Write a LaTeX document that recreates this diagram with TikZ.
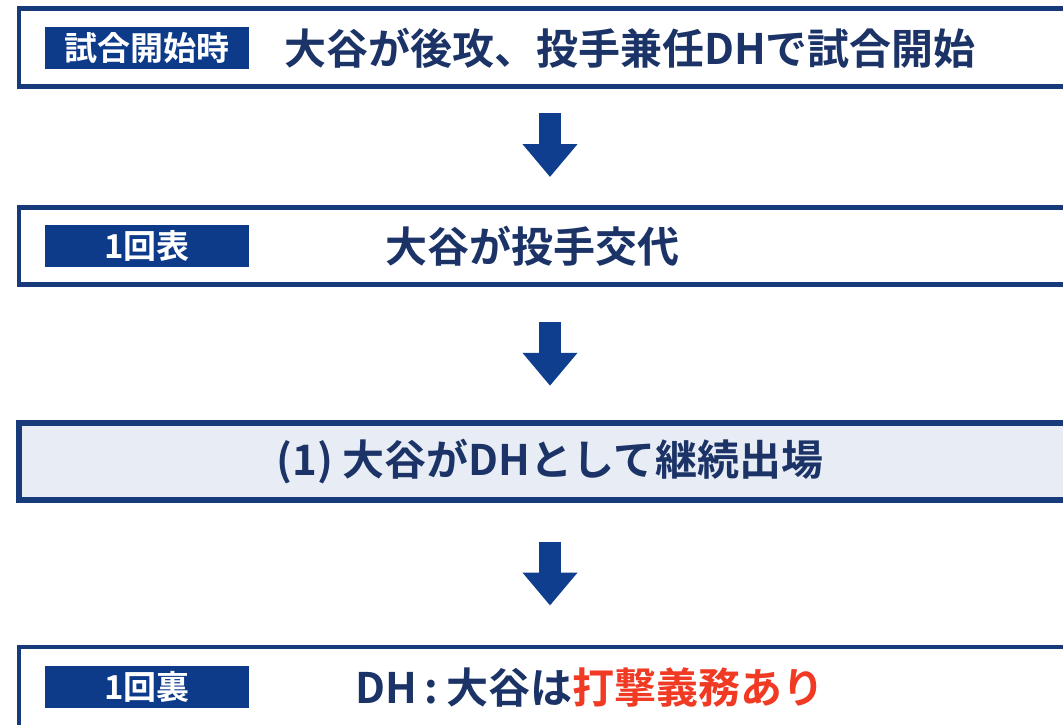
\documentclass[tikz,border=0pt]{standalone}
\usepackage{fontspec}
\setmainfont{Noto Sans CJK JP}[BoldFont={Noto Sans CJK JP Bold}]
\usetikzlibrary{arrows.meta,calc}
\definecolor{navy}{HTML}{173A7A}
\definecolor{labelbg}{HTML}{0D3B8A}
\definecolor{arrowc}{HTML}{0F3E8E}
\definecolor{txt}{HTML}{1B3366}
\definecolor{redtxt}{HTML}{F03A24}
\definecolor{lightbg}{HTML}{E8EDF5}
\tikzset{
  box/.style={draw=navy, line width=4.5pt, fill=white, minimum width=1062pt, inner sep=0pt, outer sep=0pt},
  lbl/.style={fill=labelbg, text=white, minimum width=204pt, minimum height=42pt, inner sep=0pt, font=\fontsize{33}{33}\selectfont\bfseries},
  maintext/.style={text=txt, inner sep=0pt, anchor=west, font=\fontsize{42}{42}\selectfont\bfseries},
  flowarrow/.style={draw=arrowc, line width=22pt, -{Triangle[width=53pt,length=33pt]}}
}
\begin{document}
\begin{tikzpicture}[x=1pt,y=-1pt]
\useasboundingbox (0,0) rectangle (1063,725);
\clip (0,0) rectangle (1063,725);
\fill[white] (0,0) rectangle (1063,725);
% boxes
\node[box, minimum height=78pt] (b1) at (550,47.5) {};
\node[box, minimum height=77pt] (b2) at (550,246) {};
\node[box, fill=lightbg, line width=5.5pt, minimum height=77pt] (b3) at (550,461.5) {};
\node[box, minimum height=100pt] (b4) at (550,697) {};
% labels
\node[lbl] (l1) at (147,48) {試合開始時};
\node[lbl] (l2) at (147,245.5) {1回表};
\node[lbl] (l4) at (147,687) {1回裏};
% texts
\node[maintext] (t1) at (284,48) {大谷が後攻、投手兼任DHで試合開始};
\node[maintext] (t2) at (385,246) {大谷が投手交代};
\node[maintext, anchor=center] (t3) at (550,462) {(1) 大谷がDHとして継続出場};
\node[maintext] (t4) at (355,687) {DH\hspace{8pt}:\hspace{8pt}大谷は\textcolor{redtxt}{打撃義務あり}};
% arrows
\coordinate (m1) at ($(b1.south)!0.5!(b2.north)$);
\coordinate (m2) at ($(b2.south)!0.5!(b3.north)$);
\coordinate (m3) at ($(b3.south)!0.5!(b4.north)$);
\draw[flowarrow] ([yshift=34pt]m1) -- ([yshift=-30pt]m1);
\draw[flowarrow] ([yshift=32pt]m2) -- ([yshift=-32pt]m2);
\draw[flowarrow] ([yshift=32pt]m3) -- ([yshift=-32pt]m3);
\end{tikzpicture}
\end{document}
